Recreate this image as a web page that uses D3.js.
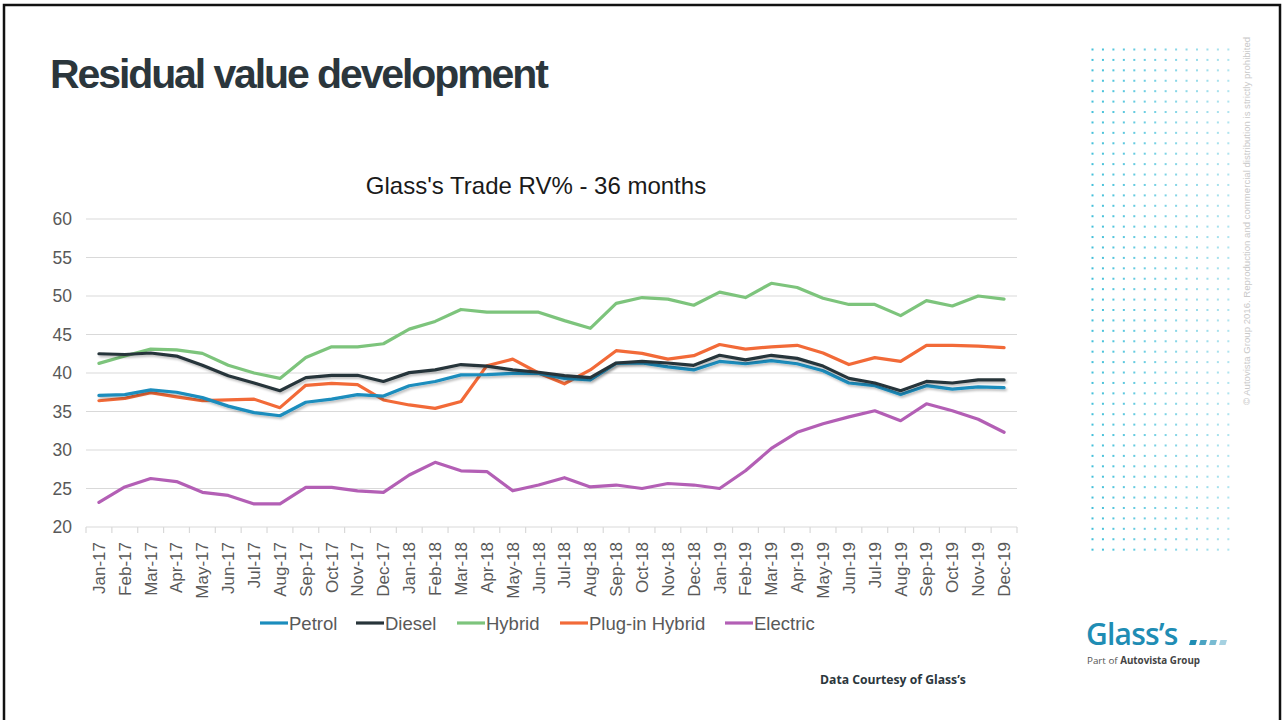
<!DOCTYPE html>
<html>
<head>
<meta charset="utf-8">
<script src="https://cdn.jsdelivr.net/npm/d3@7"></script>
<style>
  html, body { margin: 0; padding: 0; background: #fff; }
  svg { display: block; }
</style>
</head>
<body>
<svg id="slide" width="1283" height="720"></svg>
<script>
// Monthly categories, Jan-17 .. Dec-19
const months = [
  "Jan-17","Feb-17","Mar-17","Apr-17","May-17","Jun-17","Jul-17","Aug-17","Sep-17","Oct-17","Nov-17","Dec-17",
  "Jan-18","Feb-18","Mar-18","Apr-18","May-18","Jun-18","Jul-18","Aug-18","Sep-18","Oct-18","Nov-18","Dec-18",
  "Jan-19","Feb-19","Mar-19","Apr-19","May-19","Jun-19","Jul-19","Aug-19","Sep-19","Oct-19","Nov-19","Dec-19"
];

// Trade RV% at 36 months, by fuel type
const petrol = [
  37.1, 37.2, 37.8, 37.5, 36.8, 35.7, 34.85, 34.45, 36.2, 36.6, 37.2, 37.0,
  38.35, 38.9, 39.75, 39.8, 39.95, 39.95, 39.3, 39.1, 41.25, 41.3, 40.8, 40.4,
  41.5, 41.2, 41.6, 41.2, 40.3, 38.7, 38.35, 37.2, 38.35, 37.9, 38.2, 38.1
];
const diesel = [
  42.5, 42.4, 42.6, 42.2, 41.0, 39.65, 38.7, 37.7, 39.4, 39.7, 39.7, 38.9,
  40.05, 40.4, 41.1, 40.9, 40.4, 40.1, 39.65, 39.4, 41.3, 41.5, 41.3, 41.0,
  42.3, 41.7, 42.3, 41.9, 40.9, 39.3, 38.7, 37.7, 38.9, 38.7, 39.1, 39.1
];
const hybrid = [
  41.25, 42.2, 43.1, 43.0, 42.55, 41.0, 40.0, 39.3, 42.0, 43.4, 43.4, 43.8,
  45.7, 46.7, 48.25, 47.9, 47.9, 47.9, 46.8, 45.8, 49.05, 49.8, 49.6, 48.8,
  50.5, 49.8, 51.65, 51.1, 49.7, 48.9, 48.9, 47.45, 49.4, 48.7, 50.0, 49.6
];
const pluginHybrid = [
  36.4, 36.7, 37.45, 36.9, 36.4, 36.5, 36.6, 35.5, 38.4, 38.65, 38.5, 36.5,
  35.85, 35.4, 36.3, 40.95, 41.8, 40.0, 38.6, 40.4, 42.9, 42.55, 41.8, 42.25,
  43.7, 43.1, 43.4, 43.6, 42.6, 41.1, 42.0, 41.5, 43.6, 43.6, 43.5, 43.3
];
const electric = [
  23.2, 25.2, 26.3, 25.9, 24.5, 24.1, 23.0, 23.0, 25.15, 25.15, 24.7, 24.5,
  26.75, 28.4, 27.3, 27.2, 24.7, 25.45, 26.4, 25.2, 25.45, 25.0, 25.65, 25.45,
  25.0, 27.3, 30.2, 32.3, 33.4, 34.3, 35.1, 33.8, 36.0, 35.1, 34.0, 32.3
];

const seriesNames  = ["Petrol", "Diesel", "Hybrid", "Plug-in Hybrid", "Electric"];
const seriesValues = [petrol, diesel, hybrid, pluginHybrid, electric];
const seriesColors = ["#1b8dbd", "#28343a", "#7dc47c", "#f26a38", "#b35fb5"];
const yTicks = [20, 25, 30, 35, 40, 45, 50, 55, 60];

const svg = d3.select("#slide");
const font = "'Liberation Sans', Arial, sans-serif";

// Slide frame
svg.append("path")
  .attr("d", "M4,720 L4,5 L1280,5 L1280,720")
  .attr("fill", "none").attr("stroke", "#111").attr("stroke-width", 2.5);

// Slide heading
svg.append("text")
  .attr("x", 50).attr("y", 88)
  .attr("font-family", font).attr("font-weight", "bold")
  .attr("font-size", 41).attr("letter-spacing", -2.1)
  .attr("fill", "#2b363c")
  .text("Residual value development");

// Decorative dot grid on the right
const dotCols = d3.range(14), dotRows = d3.range(49);
const dots = svg.append("g");
dotRows.forEach(r => {
  dotCols.forEach(c => {
    const fade = 1 - c / 16;
    dots.append("rect")
      .attr("x", 1091.5 + c * 10.45).attr("y", 48.5 + r * 10.42)
      .attr("width", 2).attr("height", 2)
      .attr("fill", "#23b5d3")
      .attr("opacity", 0.25 + 0.6 * fade);
  });
});

// Copyright line, rotated
svg.append("text")
  .attr("transform", "translate(1250,405) rotate(-90)")
  .attr("font-family", font).attr("font-size", 9.6)
  .attr("fill", "#c9c9c9")
  .text("\u00A9 Autovista Group 2016. Reproduction and commercial distribution is strictly prohibited");

// Chart geometry
const margin = { left: 86, right: 1017, top: 219, bottom: 527 };

const x = d3.scaleBand().domain(months).range([margin.left, margin.right]).paddingInner(0).paddingOuter(0);
const y = d3.scaleLinear().domain([20, 60]).range([margin.bottom, margin.top]);

// Chart title
svg.append("text")
  .attr("x", 536).attr("y", 194)
  .attr("text-anchor", "middle")
  .attr("font-family", font).attr("font-size", 24)
  .attr("fill", "#1a1a1a")
  .text("Glass's Trade RV% - 36 months");

// Horizontal gridlines
svg.append("g")
  .selectAll("line")
  .data(yTicks.filter(t => t !== 20))
  .join("line")
  .attr("x1", margin.left).attr("x2", margin.right)
  .attr("y1", d => y(d)).attr("y2", d => y(d))
  .attr("stroke", "#d9d9d9").attr("stroke-width", 1.2);

// Y axis labels
const yAxis = d3.axisLeft(y).tickValues(yTicks).tickSize(0).tickPadding(14);
svg.append("g")
  .attr("transform", `translate(${margin.left},0)`)
  .call(yAxis)
  .call(g => g.select(".domain").remove())
  .call(g => g.selectAll("text")
    .attr("font-family", font).attr("font-size", 17.5).attr("fill", "#595959"));

// Category axis with ticks at band boundaries
const xAxis = d3.axisBottom(x).tickSize(0).tickPadding(0);
const xg = svg.append("g")
  .attr("transform", `translate(0,${margin.bottom})`)
  .call(xAxis);
xg.select(".domain").attr("stroke", "#d9d9d9").attr("stroke-width", 1.2)
  .attr("d", `M${margin.left},0H${margin.right}`);
xg.selectAll("text")
  .attr("font-family", font).attr("font-size", 17).attr("fill", "#595959")
  .attr("text-anchor", "end")
  .attr("dy", "0.35em")
  .attr("transform", "translate(0,15) rotate(-90)")
  .attr("y", 0).attr("x", 0);
xg.append("g")
  .selectAll("line")
  .data(d3.range(months.length + 1))
  .join("line")
  .attr("x1", i => margin.left + i * x.bandwidth())
  .attr("x2", i => margin.left + i * x.bandwidth())
  .attr("y1", 0).attr("y2", 6)
  .attr("stroke", "#d9d9d9").attr("stroke-width", 1.2);

// Soft drop shadow on lines
const defs = svg.append("defs");
const f = defs.append("filter").attr("id", "lineShadow")
  .attr("x", "-5%").attr("y", "-20%").attr("width", "110%").attr("height", "140%");
f.append("feDropShadow")
  .attr("dx", 1.5).attr("dy", 2).attr("stdDeviation", 1.2)
  .attr("flood-color", "#000").attr("flood-opacity", 0.25);

const line = d3.line()
  .x((d, i) => x(months[i]) + x.bandwidth() / 2)
  .y(d => y(d));

// Draw order: Electric, Hybrid, Plug-in Hybrid, Petrol, Diesel
const drawOrder = [4, 2, 3, 0, 1];
svg.append("g")
  .selectAll("path")
  .data(drawOrder)
  .join("path")
  .attr("d", k => line(seriesValues[k]))
  .attr("fill", "none")
  .attr("stroke", k => seriesColors[k])
  .attr("stroke-width", 3.2)
  .attr("stroke-linejoin", "round")
  .attr("stroke-linecap", "round")
  .attr("filter", k => (k === 0 || k === 1) ? "url(#lineShadow)" : null);

// Legend
const legendX = [260, 356, 457, 560, 725];
const legend = svg.append("g");
seriesNames.forEach((name, k) => {
  const g = legend.append("g").attr("transform", `translate(${legendX[k]},623)`);
  g.append("line").attr("x1", 0).attr("x2", 28).attr("y1", 0).attr("y2", 0)
    .attr("stroke", seriesColors[k]).attr("stroke-width", 3.2);
  g.append("text").attr("x", 29).attr("y", 6.5)
    .attr("font-family", font).attr("font-size", 18.5).attr("fill", "#595959")
    .text(name);
});

// Source note
svg.append("text")
  .attr("x", 820).attr("y", 684)
  .attr("font-family", "'Open Sans', 'Liberation Sans', sans-serif")
  .attr("font-weight", "bold").attr("font-size", 12.2)
  .attr("fill", "#2b363c")
  .text("Data Courtesy of Glass\u2019s");

// Logo
const logo = svg.append("g");
logo.append("text")
  .attr("x", 1086).attr("y", 645)
  .attr("font-family", "'Open Sans', 'Liberation Sans', sans-serif")
  .attr("font-weight", 600).attr("font-size", 30).attr("letter-spacing", -0.8)
  .attr("fill", "#1f8db4")
  .text("Glass\u2019s");
[0, 1, 2, 3].forEach(i => {
  logo.append("path")
    .attr("d", `M${1189 + i * 10},645 l1.5,-5 h6.5 l-1.5,5 z`)
    .attr("fill", "#1f8db4")
    .attr("opacity", 1 - i * 0.2);
});
logo.append("text")
  .attr("x", 1087).attr("y", 664)
  .attr("font-family", "'Open Sans', 'Liberation Sans', sans-serif")
  .attr("font-size", 9.8).attr("fill", "#555")
  .text("Part of ")
  .append("tspan").attr("font-weight", "bold").attr("fill", "#444")
  .text("Autovista Group");
</script>
</body>
</html>
